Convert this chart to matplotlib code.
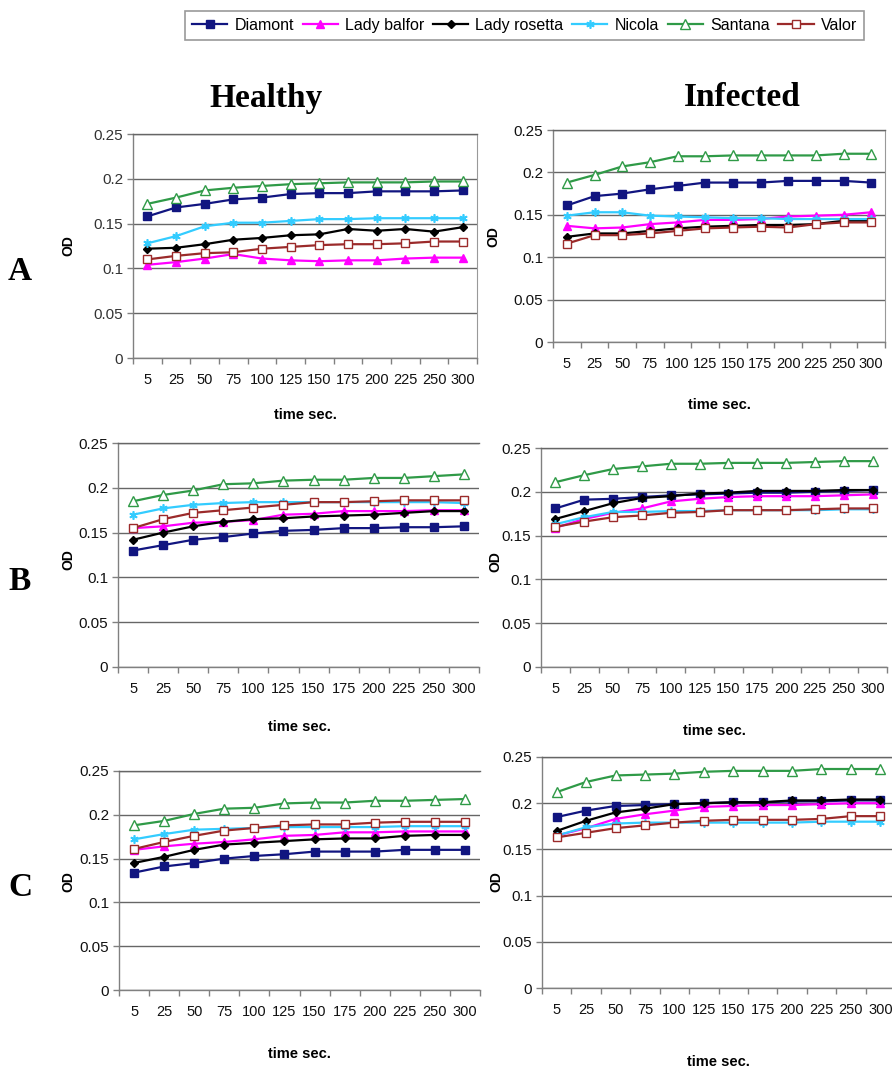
import numpy as np
import matplotlib
matplotlib.use("Agg")
import matplotlib.pyplot as plt
from matplotlib.ticker import FixedLocator

# ---------------- data ----------------
times = ['5', '25', '50', '75', '100', '125', '150', '175', '200', '225', '250', '300']
cultivars = ['Diamont', 'Lady balfor', 'Lady rosetta', 'Nicola', 'Santana', 'Valor']
y_ticks = [0, 0.05, 0.1, 0.15, 0.2, 0.25]
y_ticklabels = ['0', '0.05', '0.1', '0.15', '0.2', '0.25']

a_healthy = {
    'Diamont':      [0.158, 0.168, 0.172, 0.177, 0.179, 0.183, 0.184, 0.184, 0.186, 0.186, 0.186, 0.187],
    'Lady balfor':  [0.104, 0.107, 0.111, 0.116, 0.111, 0.109, 0.108, 0.109, 0.109, 0.111, 0.112, 0.112],
    'Lady rosetta': [0.122, 0.123, 0.127, 0.132, 0.134, 0.137, 0.138, 0.144, 0.142, 0.144, 0.141, 0.146],
    'Nicola':       [0.128, 0.136, 0.147, 0.151, 0.151, 0.153, 0.155, 0.155, 0.156, 0.156, 0.156, 0.156],
    'Santana':      [0.172, 0.179, 0.187, 0.190, 0.192, 0.194, 0.195, 0.196, 0.196, 0.196, 0.197, 0.197],
    'Valor':        [0.110, 0.114, 0.117, 0.118, 0.122, 0.124, 0.126, 0.127, 0.127, 0.128, 0.130, 0.130],
}
a_infected = {
    'Diamont':      [0.161, 0.172, 0.175, 0.180, 0.184, 0.188, 0.188, 0.188, 0.190, 0.190, 0.190, 0.188],
    'Lady balfor':  [0.137, 0.134, 0.135, 0.139, 0.141, 0.144, 0.144, 0.145, 0.148, 0.149, 0.150, 0.153],
    'Lady rosetta': [0.124, 0.128, 0.128, 0.131, 0.134, 0.136, 0.137, 0.138, 0.138, 0.139, 0.143, 0.143],
    'Nicola':       [0.149, 0.153, 0.153, 0.149, 0.148, 0.147, 0.146, 0.146, 0.145, 0.145, 0.145, 0.145],
    'Santana':      [0.188, 0.197, 0.207, 0.212, 0.219, 0.219, 0.220, 0.220, 0.220, 0.220, 0.222, 0.222],
    'Valor':        [0.116, 0.126, 0.126, 0.128, 0.131, 0.134, 0.135, 0.136, 0.135, 0.139, 0.141, 0.141],
}
b_healthy = {
    'Diamont':      [0.130, 0.136, 0.142, 0.145, 0.149, 0.152, 0.153, 0.155, 0.155, 0.156, 0.156, 0.157],
    'Lady balfor':  [0.155, 0.157, 0.161, 0.162, 0.164, 0.170, 0.171, 0.174, 0.174, 0.174, 0.175, 0.175],
    'Lady rosetta': [0.142, 0.150, 0.157, 0.162, 0.165, 0.166, 0.168, 0.169, 0.170, 0.172, 0.174, 0.174],
    'Nicola':       [0.170, 0.177, 0.181, 0.183, 0.184, 0.184, 0.184, 0.184, 0.184, 0.184, 0.184, 0.183],
    'Santana':      [0.185, 0.192, 0.197, 0.204, 0.205, 0.208, 0.209, 0.209, 0.211, 0.211, 0.213, 0.215],
    'Valor':        [0.155, 0.165, 0.172, 0.175, 0.178, 0.181, 0.184, 0.184, 0.185, 0.186, 0.186, 0.186],
}
b_infected = {
    'Diamont':      [0.181, 0.191, 0.192, 0.194, 0.196, 0.197, 0.198, 0.199, 0.199, 0.200, 0.201, 0.202],
    'Lady balfor':  [0.159, 0.169, 0.176, 0.181, 0.189, 0.192, 0.194, 0.195, 0.195, 0.195, 0.196, 0.197],
    'Lady rosetta': [0.169, 0.178, 0.187, 0.193, 0.195, 0.198, 0.199, 0.201, 0.201, 0.201, 0.202, 0.202],
    'Nicola':       [0.163, 0.171, 0.177, 0.177, 0.178, 0.178, 0.179, 0.179, 0.179, 0.179, 0.180, 0.180],
    'Santana':      [0.211, 0.219, 0.226, 0.229, 0.232, 0.232, 0.233, 0.233, 0.233, 0.234, 0.235, 0.235],
    'Valor':        [0.160, 0.166, 0.171, 0.173, 0.176, 0.177, 0.179, 0.179, 0.179, 0.180, 0.181, 0.181],
}
c_healthy = {
    'Diamont':      [0.134, 0.141, 0.145, 0.150, 0.153, 0.155, 0.158, 0.158, 0.158, 0.160, 0.160, 0.160],
    'Lady balfor':  [0.160, 0.164, 0.167, 0.169, 0.172, 0.176, 0.177, 0.180, 0.180, 0.181, 0.181, 0.181],
    'Lady rosetta': [0.145, 0.152, 0.160, 0.166, 0.168, 0.170, 0.172, 0.173, 0.173, 0.176, 0.177, 0.177],
    'Nicola':       [0.172, 0.178, 0.183, 0.184, 0.185, 0.186, 0.186, 0.186, 0.186, 0.187, 0.187, 0.187],
    'Santana':      [0.188, 0.193, 0.201, 0.207, 0.208, 0.213, 0.214, 0.214, 0.216, 0.216, 0.217, 0.218],
    'Valor':        [0.161, 0.169, 0.176, 0.182, 0.185, 0.188, 0.189, 0.189, 0.191, 0.192, 0.192, 0.192],
}
c_infected = {
    'Diamont':      [0.185, 0.192, 0.197, 0.198, 0.199, 0.200, 0.201, 0.201, 0.202, 0.202, 0.203, 0.203],
    'Lady balfor':  [0.165, 0.173, 0.183, 0.188, 0.192, 0.196, 0.197, 0.198, 0.198, 0.199, 0.200, 0.200],
    'Lady rosetta': [0.170, 0.181, 0.190, 0.194, 0.199, 0.200, 0.201, 0.201, 0.203, 0.203, 0.204, 0.204],
    'Nicola':       [0.165, 0.174, 0.178, 0.179, 0.179, 0.179, 0.179, 0.179, 0.179, 0.180, 0.180, 0.180],
    'Santana':      [0.212, 0.223, 0.230, 0.231, 0.232, 0.234, 0.235, 0.235, 0.235, 0.237, 0.237, 0.237],
    'Valor':        [0.163, 0.168, 0.173, 0.176, 0.179, 0.181, 0.182, 0.182, 0.182, 0.183, 0.186, 0.186],
}

# ---------------- styles ----------------
styles = {
    'Diamont':      dict(color='#111580', marker='s', ms=5.5, mfc='#111580', mec='#111580'),
    'Lady balfor':  dict(color='#FF00FF', marker='^', ms=6, mfc='#FF00FF', mec='#FF00FF'),
    'Lady rosetta': dict(color='#000000', marker='D', ms=4.5, mfc='#000000', mec='#000000'),
    'Nicola':       dict(color='#33CCFF', marker=(6, 2, 0), ms=6, mew=1.2, mec='#33CCFF'),
    'Santana':      dict(color='#2F9A47', marker='^', ms=6.5, mfc='white', mec='#2F9A47', mew=1.0),
    'Valor':        dict(color='#9B2A2A', marker='s', ms=5.5, mfc='white', mec='#9B2A2A', mew=1.0),
}

SANS = ['Liberation Sans', 'DejaVu Sans']
SERIF = ['Liberation Serif', 'DejaVu Serif']

W, H = 892, 1070
fig = plt.figure(figsize=(W / 100, H / 100), dpi=100)
fig.patch.set_facecolor('white')


def px_axes(l, t, r, b):
    return fig.add_axes([l / W, 1 - b / H, (r - l) / W, (b - t) / H])


panels = [
    # data, box (l, t, r, b), xlabel center (x, y), ylabel center (x, y), wide ylabels, right spine
    (a_healthy, (133, 134, 477, 358), (305, 408), (75, 246), True, True),
    (a_infected, (553, 130, 885, 342), (719, 398), (500, 237), False, True),
    (b_healthy, (118, 443, 479, 667), (299, 720), (75, 560), False, False),
    (b_infected, (541, 448, 887, 667), (714, 724), (502, 562), False, False),
    (c_healthy, (119, 771, 480, 990), (299, 1047), (75, 882), False, False),
    (c_infected, (542, 757, 895, 988), (718, 1055), (503, 882), False, False),
]

handles = []
for idx, (data, box, xl, yl, wide, rspine) in enumerate(panels):
    l, t, r, b = box
    ax = px_axes(l, t, r, b)
    for name in cultivars:
        ln, = ax.plot(times, data[name], lw=1.6, zorder=3, clip_on=False, **styles[name])
        if idx == 0:
            handles.append(ln)
    ax.set_xlim(-0.5, 11.5)
    ax.set_ylim(0, 0.25)
    ax.set_yticks(y_ticks)
    if wide:
        ax.set_yticklabels(y_ticklabels, family=SANS, fontsize=11, color='#333333')
    else:
        ax.set_yticklabels(y_ticklabels, family=SANS, fontsize=11, color='#111111')
    ax.tick_params(axis='y', direction='out', length=4, width=1, color='#808080', pad=3)
    ax.xaxis.set_minor_locator(FixedLocator(np.arange(-0.5, 12, 1.0)))
    ax.tick_params(axis='x', which='major', length=0, pad=11)
    ax.tick_params(axis='x', which='minor', direction='out', length=4, width=1, color='#808080')
    for lab in ax.get_xticklabels():
        lab.set_family(SANS)
        lab.set_fontsize(10.5)
        lab.set_color('#111111')
    ax.yaxis.grid(True, color='#666666', lw=1.0)
    ax.set_axisbelow(True)
    for side in ['left', 'bottom']:
        ax.spines[side].set_color('#808080')
        ax.spines[side].set_linewidth(1.0)
    ax.spines['top'].set_color('#666666')
    ax.spines['top'].set_linewidth(1.0)
    ax.spines['right'].set_visible(rspine)
    ax.spines['right'].set_color('#999999')
    ax.set_xlabel('time sec.', family=SANS, fontsize=10.5, fontweight='bold')
    ax.xaxis.set_label_coords((xl[0] - l) / (r - l), (b - xl[1]) / (b - t), transform=ax.transAxes)
    ax.set_ylabel('OD', family=SANS, fontsize=10, fontweight='bold')
    ax.yaxis.set_label_coords((yl[0] - l) / (r - l), (b - yl[1]) / (b - t), transform=ax.transAxes)

# titles and row labels
fig.text(266 / W, 1 - 98 / H, 'Healthy', family=SERIF, fontsize=24, fontweight='bold',
         ha='center', va='center')
fig.text(742 / W, 1 - 98 / H, 'Infected', family=SERIF, fontsize=24, fontweight='bold',
         ha='center', va='center')
for lab, yy in [('A', 272), ('B', 582), ('C', 888)]:
    fig.text(20 / W, 1 - yy / H, lab, family=SERIF, fontsize=24, fontweight='bold',
             ha='center', va='center')

leg = fig.legend(handles, cultivars, loc='center', bbox_to_anchor=(524.5 / W, 1 - 25.5 / H),
                 ncol=6, frameon=True, fancybox=False, edgecolor='#808080',
                 prop={'family': SANS, 'size': 11.5}, handlelength=2.2, handletextpad=0.45,
                 columnspacing=0.55, borderpad=0.45)
leg.get_frame().set_linewidth(1.2)

fig.savefig('out.png', dpi=100, facecolor='white')
